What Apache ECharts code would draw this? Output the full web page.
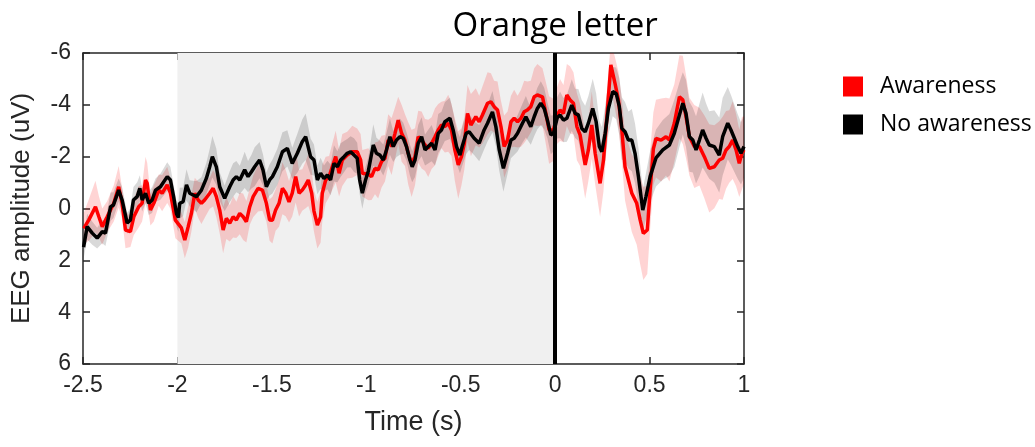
<!DOCTYPE html>
<html><head><meta charset="utf-8">
<script src="https://cdn.jsdelivr.net/npm/echarts@6/dist/echarts.min.js"></script>
<style>html,body{margin:0;padding:0;background:#fff}#c{width:1035px;height:447px}</style>
</head><body><div id="c"></div>
<script>
// ---- data (time in s, amplitude in uV) ----
const awareTime = [-2.496,-2.469,-2.434,-2.416,-2.398,-2.372,-2.337,-2.311,-2.293,-2.275,
-2.249,-2.231,-2.205,-2.187,-2.169,-2.160,-2.143,-2.125,-2.099,-2.081,
-2.054,-2.037,-2.011,-1.979,-1.961,-1.943,-1.926,-1.908,-1.890,-1.873,
-1.856,-1.829,-1.811,-1.794,-1.776,-1.758,-1.741,-1.723,-1.705,-1.688,
-1.670,-1.652,-1.635,-1.617,-1.599,-1.573,-1.550,-1.529,-1.512,-1.497,
-1.480,-1.462,-1.444,-1.427,-1.409,-1.392,-1.374,-1.356,-1.339,-1.321,
-1.307,-1.289,-1.277,-1.259,-1.242,-1.233,-1.215,-1.197,-1.180,-1.162,
-1.144,-1.127,-1.101,-1.074,-1.048,-1.030,-1.021,-0.989,-0.972,-0.954,
-0.937,-0.919,-0.901,-0.884,-0.866,-0.848,-0.831,-0.813,-0.795,-0.778,
-0.760,-0.742,-0.725,-0.707,-0.689,-0.672,-0.654,-0.636,-0.619,-0.602,
-0.584,-0.566,-0.549,-0.531,-0.513,-0.496,-0.481,-0.464,-0.446,-0.420,
-0.402,-0.385,-0.358,-0.340,-0.323,-0.305,-0.287,-0.270,-0.252,-0.234,
-0.217,-0.199,-0.181,-0.164,-0.147,-0.129,-0.111,-0.094,-0.067,-0.049,
-0.032,-0.009,0.011,0.026,0.044,0.062,0.079,0.097,0.115,0.132,
0.159,0.176,0.194,0.212,0.238,0.256,0.274,0.295,0.317,0.335,
0.353,0.370,0.388,0.406,0.432,0.450,0.467,0.488,0.503,0.520,
0.534,0.561,0.587,0.605,0.631,0.658,0.676,0.693,0.711,0.737,
0.764,0.790,0.816,0.843,0.869,0.887,0.905,0.922,0.940,0.958,
0.975,0.989,1.0];
const awareMean = [0.77,0.44,-0.07,0.32,0.70,0.32,-0.20,-0.84,-0.20,0.83,
0.89,0.32,-0.07,-0.20,-1.10,-0.97,0.06,-0.20,-0.71,-0.59,
-0.91,-0.59,0.45,0.75,1.22,0.70,0.19,-0.59,-0.33,-0.20,
-0.33,-0.59,-0.78,-0.46,0.06,0.83,0.38,0.57,0.32,0.44,
0.19,0.32,0.51,-0.07,-0.46,-0.78,-0.71,-0.20,0.44,0.45,
0.06,-0.20,-0.78,-0.60,-0.26,-0.59,-1.23,-0.59,-0.71,-0.91,
-1.10,-0.59,0.10,0.64,0.32,-0.59,-1.10,-1.23,-1.61,-2.00,
-1.36,-1.87,-2.06,-2.19,-2.19,-1.87,-1.36,-1.32,-1.23,-1.55,
-1.49,-1.81,-1.94,-2.64,-2.39,-2.90,-3.41,-2.90,-2.64,-2.13,
-1.74,-2.00,-2.77,-2.64,-2.45,-2.32,-2.52,-2.77,-3.03,-3.22,
-3.16,-3.29,-3.03,-2.26,-1.68,-2.00,-2.50,-3.67,-3.22,-3.54,
-3.35,-3.61,-4.06,-4.12,-3.93,-3.80,-3.16,-2.39,-2.64,-3.35,
-3.48,-3.35,-3.48,-3.73,-3.80,-3.93,-4.31,-4.38,-4.31,-3.67,
-3.03,-3.03,-3.60,-3.80,-3.67,-4.38,-4.19,-4.06,-3.16,-2.84,
-1.68,-2.26,-3.22,-2.13,-0.97,-1.87,-3.54,-5.54,-4.83,-4.19,
-3.03,-1.61,-1.10,-0.59,-0.20,0.44,0.96,0.83,-0.71,-2.30,
-2.70,-2.64,-2.77,-2.64,-3.29,-4.31,-4.19,-3.54,-2.77,-2.39,
-2.39,-2.00,-1.55,-1.61,-1.87,-1.94,-2.26,-2.39,-2.64,-2.26,
-1.74,-2.13,-2.26];
const awareSem = [0.6,0.8,1.0,0.8,0.7,0.6,0.7,0.8,0.6,0.7,
0.6,0.7,0.8,0.7,0.9,0.8,0.6,0.7,0.6,0.7,
0.7,0.6,0.7,0.6,0.7,0.8,0.7,0.6,0.7,0.8,
0.7,0.6,0.7,0.8,0.9,0.9,0.8,0.7,0.8,0.7,
0.8,0.9,0.8,0.7,0.8,0.9,0.8,0.7,0.8,0.9,
0.8,0.9,1.0,0.9,0.8,0.9,1.0,0.9,0.8,0.9,
1.0,0.9,0.8,0.9,1.0,1.1,0.9,0.8,0.9,1.0,
0.9,1.0,0.9,1.0,0.9,1.0,0.9,1.0,0.9,1.0,
1.1,1.0,0.9,1.0,1.1,1.0,0.9,1.1,1.0,1.2,
1.3,1.1,1.0,1.1,1.0,1.1,1.0,1.1,1.0,0.9,
1.0,1.1,1.0,1.2,1.3,1.1,1.0,1.1,1.2,1.1,
1.0,1.1,1.2,1.1,1.0,1.1,1.0,1.2,1.1,1.0,
1.1,1.0,1.1,1.2,1.1,1.0,1.1,1.2,1.1,1.2,
1.3,1.2,1.1,1.2,1.1,1.2,1.3,1.2,1.3,1.2,
1.3,1.2,1.3,1.2,1.3,1.2,1.0,0.9,1.0,1.1,
1.2,1.3,1.4,1.5,1.6,1.7,1.8,1.7,1.5,1.4,
1.5,1.6,1.5,1.6,1.5,1.6,1.7,1.6,1.5,1.6,
1.5,1.6,1.7,1.6,1.5,1.6,1.5,1.4,1.5,1.4,
1.3,1.4,1.3];
const noAwareTime = [-2.497,-2.478,-2.451,-2.425,-2.398,-2.381,-2.354,-2.339,-2.311,-2.293,
-2.266,-2.249,-2.233,-2.213,-2.199,-2.187,-2.169,-2.152,-2.134,-2.116,
-2.090,-2.054,-2.037,-2.020,-2.005,-1.995,-1.988,-1.970,-1.952,-1.935,
-1.917,-1.899,-1.873,-1.847,-1.829,-1.815,-1.794,-1.776,-1.750,-1.723,
-1.705,-1.688,-1.670,-1.644,-1.626,-1.608,-1.591,-1.565,-1.547,-1.529,
-1.512,-1.497,-1.471,-1.444,-1.418,-1.392,-1.365,-1.339,-1.321,-1.295,
-1.277,-1.259,-1.242,-1.224,-1.206,-1.189,-1.171,-1.153,-1.136,-1.118,
-1.101,-1.083,-1.065,-1.048,-1.035,-1.021,-1.004,-0.989,-0.963,-0.946,
-0.928,-0.910,-0.893,-0.875,-0.857,-0.840,-0.822,-0.804,-0.787,-0.769,
-0.757,-0.742,-0.725,-0.707,-0.689,-0.672,-0.654,-0.636,-0.619,-0.602,
-0.584,-0.557,-0.540,-0.522,-0.504,-0.492,-0.471,-0.455,-0.429,-0.402,
-0.376,-0.358,-0.332,-0.314,-0.296,-0.274,-0.252,-0.234,-0.217,-0.199,
-0.173,-0.155,-0.129,-0.111,-0.094,-0.076,-0.058,-0.041,-0.023,-0.009,
0.011,0.026,0.044,0.062,0.088,0.106,0.123,0.141,0.159,0.176,
0.199,0.217,0.234,0.247,0.265,0.282,0.305,0.323,0.340,0.353,
0.370,0.388,0.406,0.423,0.441,0.464,0.481,0.503,0.534,0.570,
0.605,0.631,0.658,0.676,0.693,0.711,0.729,0.746,0.764,0.781,
0.799,0.816,0.843,0.869,0.887,0.914,0.931,0.949,0.967,0.984,
1.0];
const noAwareMean = [1.49,0.70,0.95,1.14,0.89,0.95,-0.07,-0.13,-0.71,-0.33,
0.56,0.44,-0.33,-0.46,-0.78,-0.33,-0.59,-0.20,-0.33,-0.71,
-0.84,-1.23,-1.10,-0.45,0.20,0.35,-0.20,-0.26,-0.91,-0.59,
-0.52,-0.46,-0.71,-1.16,-1.61,-2.00,-1.61,-0.84,-0.39,-0.84,
-1.10,-1.23,-1.10,-1.49,-1.23,-1.42,-1.61,-1.87,-1.49,-0.84,
-1.10,-1.23,-1.61,-2.19,-2.32,-1.74,-2.13,-2.58,-2.77,-2.00,
-1.87,-1.10,-1.36,-1.16,-1.29,-1.10,-1.74,-1.61,-1.87,-2.00,
-2.13,-2.19,-2.06,-1.94,-1.10,-0.59,-1.10,-1.45,-2.45,-2.13,
-2.06,-1.87,-2.26,-2.77,-2.39,-2.64,-2.77,-2.71,-2.39,-1.87,
-1.61,-1.87,-2.52,-2.77,-2.26,-2.39,-2.52,-2.26,-2.90,-3.03,
-3.35,-3.48,-3.03,-2.39,-2.06,-2.40,-2.90,-2.96,-2.71,-2.52,
-3.03,-3.29,-3.73,-3.16,-2.26,-1.55,-2.13,-2.64,-2.71,-2.90,
-3.29,-3.54,-3.16,-3.54,-3.86,-4.06,-3.86,-3.41,-2.84,-2.90,
-3.50,-3.61,-3.41,-3.48,-3.99,-3.67,-3.61,-3.09,-2.96,-3.29,
-3.86,-3.35,-2.39,-2.19,-2.90,-3.86,-4.51,-4.44,-3.93,-3.09,
-2.96,-2.64,-2.64,-2.13,-1.23,0.06,-0.46,-1.23,-1.95,-2.26,
-2.45,-2.90,-3.61,-4.06,-3.67,-2.77,-2.64,-2.26,-2.64,-3.03,
-2.71,-2.45,-2.39,-2.06,-2.77,-3.29,-3.03,-2.71,-2.39,-2.13,
-2.39];
const noAwareSem = [0.45,0.5,0.45,0.4,0.45,0.5,0.55,0.5,0.45,0.5,
0.4,0.45,0.5,0.55,0.5,0.45,0.4,0.45,0.5,0.45,
0.5,0.55,0.5,0.45,0.5,0.55,0.6,0.55,0.6,0.5,
0.55,0.6,0.5,0.6,0.7,0.8,0.7,0.55,0.5,0.6,
0.65,0.6,0.55,0.7,0.6,0.65,0.75,0.7,0.6,0.55,
0.6,0.65,0.7,0.75,0.7,0.6,0.75,0.85,0.9,0.7,
0.6,0.55,0.6,0.5,0.55,0.6,0.7,0.6,0.65,0.6,
0.55,0.6,0.65,0.6,0.55,0.6,0.5,0.55,0.8,0.6,
0.55,0.6,0.65,0.7,0.6,0.65,0.7,0.6,0.55,0.6,
0.6,0.65,0.7,0.75,0.6,0.65,0.7,0.6,0.75,0.7,
0.75,0.8,0.7,0.65,0.7,0.75,0.8,0.7,0.65,0.7,
0.75,0.7,0.8,0.75,0.8,0.9,0.8,0.7,0.65,0.7,
0.75,0.8,0.7,0.75,0.8,0.85,0.8,0.7,0.75,0.7,
0.8,0.9,0.85,0.9,1.0,0.95,1.0,1.1,1.0,1.05,
1.15,1.1,1.0,0.95,1.05,1.0,0.95,1.0,1.1,1.2,
1.15,1.1,1.2,1.15,1.1,0.8,0.9,1.0,1.1,1.15,
1.2,1.3,1.25,1.2,1.3,1.35,1.25,1.3,1.4,1.45,
1.35,1.3,1.4,1.45,1.5,1.4,1.35,1.3,1.25,1.2,
1.2];
const seriesNames = ['Awareness', 'No awareness'];
const baselineWindow = [-2, 0];
const eventTime = 0;
const eventLabel = 'Orange letter';
const xRange = [-2.5, 1], xStep = 0.5;
const yRange = [-6, 6], yStep = 2;

// ---- chart ----
const axisColor = '#262626';
const tickFont = 'Liberation Sans';
function zip(t, v) { return t.map((x, i) => [x, v[i]]); }

function bandSeries(t, m, s, fill) {
  return {
    type: 'custom', z: 2, silent: true, data: [[t[0], m[0]]],
    renderItem(params, api) {
      const pts = [];
      for (let i = 0; i < t.length; i++) pts.push(api.coord([t[i], m[i] - s[i]]));
      for (let i = t.length - 1; i >= 0; i--) pts.push(api.coord([t[i], m[i] + s[i]]));
      const cs = params.coordSys;
      return { type: 'group',
        clipPath: { type: 'rect', shape: { x: cs.x, y: cs.y, width: cs.width, height: cs.height } },
        children: [{ type: 'polygon', shape: { points: pts }, style: { fill: fill } }] };
    }
  };
}

const chart = echarts.init(document.getElementById('c'), null, { renderer: 'canvas' });
const grid = { left: 83, right: 291, top: 53, bottom: 83 };
const commonX = { type: 'value', min: xRange[0], max: xRange[1], interval: xStep, splitLine: { show: false } };
const commonY = { type: 'value', inverse: true, min: yRange[0], max: yRange[1], interval: yStep, splitLine: { show: false } };
const axLine = { show: true, onZero: false, lineStyle: { color: axisColor, width: 1.5 } };
const axTick = { show: true, inside: true, length: 7, lineStyle: { color: axisColor, width: 1.5 } };

chart.setOption({
  animation: false,
  backgroundColor: '#fff',
  grid: grid,
  legend: {
    data: seriesNames, orient: 'vertical', left: 838, top: 70, itemWidth: 20, itemHeight: 20, itemGap: 15,
    icon: 'rect', selectedMode: false,
    textStyle: { fontFamily: 'Open Sans', fontSize: 23, color: '#000', padding: [0, 0, 0, 12] }
  },
  xAxis: [
    Object.assign({}, commonX, { position: 'bottom', axisLine: axLine, axisTick: axTick,
      axisLabel: { fontFamily: tickFont, fontSize: 23, color: axisColor, margin: 10 },
      name: 'Time (s)', nameLocation: 'middle', nameGap: 45,
      nameTextStyle: { fontFamily: tickFont, fontSize: 27, color: axisColor } }),
    Object.assign({}, commonX, { position: 'top', axisLine: axLine, axisTick: axTick, axisLabel: { show: false } })
  ],
  yAxis: [
    Object.assign({}, commonY, { position: 'left', axisLine: axLine, axisTick: axTick,
      axisLabel: { fontFamily: tickFont, fontSize: 23, color: axisColor, margin: 12 },
      name: 'EEG amplitude (uV)', nameLocation: 'middle', nameGap: 48, nameRotate: 90,
      nameTextStyle: { fontFamily: tickFont, fontSize: 26, color: axisColor } }),
    Object.assign({}, commonY, { position: 'right', axisLine: axLine, axisTick: axTick, axisLabel: { show: false } })
  ],
  series: [
    { type: 'custom', z: 1, silent: true, data: [[baselineWindow[0], 0]],
      renderItem(params, api) {
        const cs = params.coordSys;
        const a = api.coord([baselineWindow[0], 0]), b = api.coord([baselineWindow[1], 0]);
        return { type: 'rect', shape: { x: a[0], y: cs.y, width: b[0] - a[0], height: cs.height }, style: { fill: '#f0f0f0' } };
      } },
    bandSeries(awareTime, awareMean, awareSem, 'rgba(255,0,0,0.17)'),
    bandSeries(noAwareTime, noAwareMean, noAwareSem, 'rgba(0,0,0,0.15)'),
    { name: seriesNames[0], type: 'line', z: 3, data: zip(awareTime, awareMean), showSymbol: false, symbol: 'none',
      lineStyle: { color: '#ff0000', width: 3.5 }, itemStyle: { color: '#ff0000' } },
    { name: seriesNames[1], type: 'line', z: 4, data: zip(noAwareTime, noAwareMean), showSymbol: false, symbol: 'none',
      lineStyle: { color: '#000000', width: 3.5 }, itemStyle: { color: '#000000' },
      markLine: { silent: true, symbol: ['none', 'none'], label: { show: false },
        lineStyle: { color: '#000', width: 4, type: 'solid' }, data: [{ xAxis: eventTime }] } }
  ]
});

const px = chart.convertToPixel({ xAxisIndex: 0 }, eventTime);
chart.setOption({ graphic: [{ type: 'text', x: px, y: 27,
  style: { text: eventLabel, fontFamily: 'Open Sans', fontSize: 33, fill: '#000', align: 'center', verticalAlign: 'middle' } }] });
</script></body></html>
